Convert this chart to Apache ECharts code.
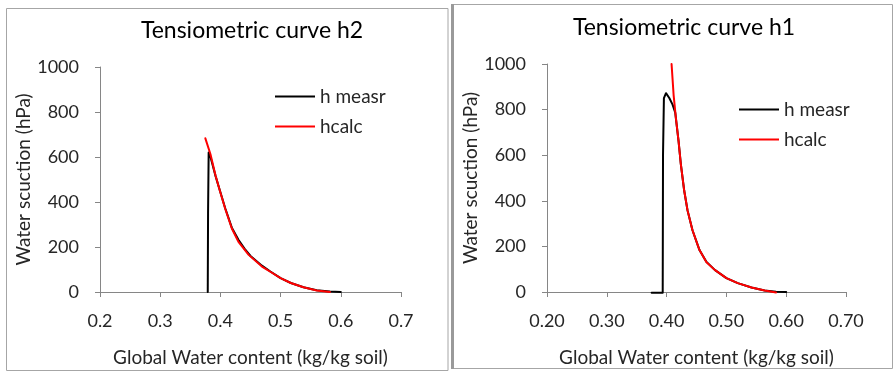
<!DOCTYPE html>
<html>
<head>
<meta charset="utf-8">
<script src="https://cdn.jsdelivr.net/npm/echarts@6/dist/echarts.min.js"></script>
<style>
html,body{margin:0;padding:0;background:#fff;}
#chart{width:895px;height:372px;}
</style>
</head>
<body>
<div id="chart"></div>
<script>
// ---- Data ----
var xTicks = [0.2, 0.3, 0.4, 0.5, 0.6, 0.7];
var yTicks = [0, 200, 400, 600, 800, 1000];
var seriesNames = ['h measr', 'hcalc'];
var titles = ['Tensiometric curve h2', 'Tensiometric curve h1'];

// Panel h2 (left)
var h2MeasX = [0.379, 0.3795, 0.3805, 0.384, 0.392, 0.399, 0.408, 0.419, 0.430, 0.440, 0.450, 0.469, 0.483, 0.500, 0.517, 0.538, 0.560, 0.582, 0.600];
var h2MeasY = [0, 350, 620, 596, 515, 452, 372, 286, 232, 193, 160, 117, 91, 62, 40, 21, 8, 2, 0];
var h2CalcX = [0.375, 0.3835, 0.392, 0.399, 0.408, 0.419, 0.430, 0.447, 0.469, 0.483, 0.500, 0.517, 0.538, 0.560, 0.582];
var h2CalcY = [683, 612, 517, 451, 370, 282, 223, 165, 113, 90, 62, 40, 21, 7, 0];

// Panel h1 (right)
var h1MeasX = [0.375, 0.3935, 0.394, 0.3955, 0.399, 0.4045, 0.410, 0.4145, 0.420, 0.4238, 0.4294, 0.435, 0.4433, 0.455, 0.4667, 0.4805, 0.500, 0.519, 0.542, 0.564, 0.583, 0.600];
var h1MeasY = [-3, -3, 600, 850, 872, 851, 822, 786, 662, 561, 445, 358, 271, 184, 132, 97, 61, 39, 20, 7, 1, 0];
var h1CalcX = [0.4083, 0.4117, 0.4155, 0.420, 0.4238, 0.4294, 0.435, 0.4433, 0.455, 0.4667, 0.4805, 0.500, 0.519, 0.542, 0.564, 0.583];
var h1CalcY = [1000, 865, 764, 662, 561, 445, 358, 271, 184, 130, 97, 61, 39, 20, 7, -2];

function zip(xs, ys){ return xs.map(function(x,i){ return [x, ys[i]]; }); }

var FONT = 'Lato';
var TXT = '#262626';
var AX = '#868686';

function xAxisFor(idx, decimals){
  return {
    type:'value', gridIndex: idx, min: xTicks[0], max: xTicks[xTicks.length-1], interval: 0.1,
    name: 'Global Water content (kg/kg soil)', nameLocation:'middle', nameGap: 56,
    nameTextStyle:{fontFamily:FONT, fontSize:19, color:TXT},
    axisLine:{onZero:false, lineStyle:{color:AX, width:1}},
    axisTick:{show:true, inside:false, length:5, lineStyle:{color:AX}},
    splitLine:{show:false},
    axisLabel:{fontFamily:FONT, fontSize:18, color:TXT, margin:20,
      formatter:function(v){ return v.toFixed(decimals); }}
  };
}
function yAxisFor(idx, gap){
  return {
    type:'value', gridIndex: idx, min: yTicks[0], max: yTicks[yTicks.length-1], interval: 200,
    name: 'Water scuction (hPa)', nameLocation:'middle', nameGap: gap, nameRotate: 90,
    nameTextStyle:{fontFamily:FONT, fontSize:19, color:TXT},
    axisLine:{show:true, onZero:false, lineStyle:{color:AX, width:1}},
    axisTick:{show:true, inside:false, length:5, lineStyle:{color:AX}},
    splitLine:{show:false},
    axisLabel:{fontFamily:FONT, fontSize:18, color:TXT, margin:21,
      formatter:function(v){ return String(v); }}
  };
}
function lineSeries(name, color, data, xi){
  return {
    name:name, type:'line', xAxisIndex:xi, yAxisIndex:xi, data:data,
    showSymbol:false, symbol:'none', smooth:false, clip:false,
    lineStyle:{color:color, width:2, join:'round', cap:'round'}, itemStyle:{color:color}, z: name==='hcalc'?3:2
  };
}

var chart = echarts.init(document.getElementById('chart'), null, {renderer:'canvas'});
chart.setOption({
  animation:false,
  backgroundColor:'#ffffff',
  graphic:[
    {type:'rect', shape:{x:6.5, y:8.5, width:441.5, height:362}, style:{fill:'none', stroke:'#a6a6a6', lineWidth:1}, z:-1},
    {type:'rect', shape:{x:452.5, y:4.5, width:440, height:364}, style:{fill:'none', stroke:'#a6a6a6', lineWidth:1}, z:-1},
    {type:'rect', shape:{x:451, y:4, width:3, height:365}, style:{fill:'#9a9a9a'}, z:-1}
  ],
  title:[
    {text:titles[0], left:247, top:14, textAlign:'center', textStyle:{fontFamily:FONT, fontSize:23, fontWeight:'normal', color:'#000'}},
    {text:titles[1], left:679, top:11, textAlign:'center', textStyle:{fontFamily:FONT, fontSize:23, fontWeight:'normal', color:'#000'}}
  ],
  legend:[
    {data:seriesNames, orient:'vertical', left:275, top:87, padding:0, itemWidth:40, itemHeight:2, icon:'rect', itemGap:11,
     textStyle:{fontFamily:FONT, fontSize:19, color:TXT}, itemStyle:{borderWidth:0}},
    {data:seriesNames, orient:'vertical', left:739, top:100, padding:0, itemWidth:40, itemHeight:2, icon:'rect', itemGap:11,
     textStyle:{fontFamily:FONT, fontSize:19, color:TXT}, itemStyle:{borderWidth:0}}
  ],
  grid:[
    {left:100, top:67, width:301, height:227},
    {left:547, top:64, width:299, height:230}
  ],
  xAxis:[xAxisFor(0,1), xAxisFor(1,2)],
  yAxis:[yAxisFor(0,66), yAxisFor(1,64)],
  series:[
    lineSeries(seriesNames[0], '#000000', zip(h2MeasX, h2MeasY), 0),
    lineSeries(seriesNames[1], '#ff0000', zip(h2CalcX, h2CalcY), 0),
    lineSeries(seriesNames[0], '#000000', zip(h1MeasX, h1MeasY), 1),
    lineSeries(seriesNames[1], '#ff0000', zip(h1CalcX, h1CalcY), 1)
  ]
});
</script>
</body>
</html>
